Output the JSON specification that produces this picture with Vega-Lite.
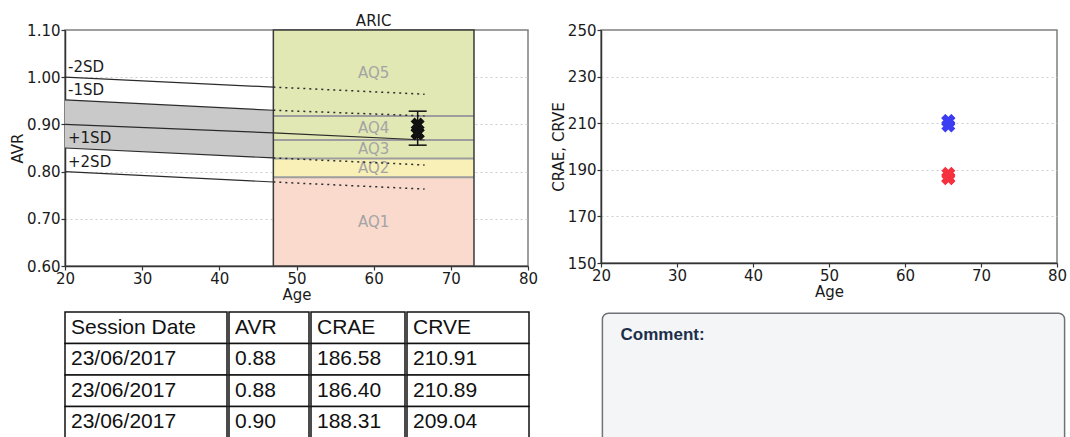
{
  "$schema": "https://vega.github.io/schema/vega-lite/v6.json",
  "background": "white",
  "padding": {"left": 9, "top": 13, "right": 0, "bottom": 0},
  "columns": 2,
  "spacing": {"row": 8, "column": 11},
  "align": "each",
  "resolve": {"scale": {"color": "independent"}},
  "datasets": {
    "sessions": [
      {"date": "23/06/2017", "age": 65.7, "avr": 0.881, "crae": 186.58, "crve": 210.91},
      {"date": "23/06/2017", "age": 65.7, "avr": 0.881, "crae": 186.40, "crve": 210.89},
      {"date": "23/06/2017", "age": 65.7, "avr": 0.900, "crae": 188.31, "crve": 209.04}
    ],
    "aq": [
      {"band": "AQ1", "a0": 47, "a1": 73, "lo": 0.60, "hi": 0.788},
      {"band": "AQ2", "a0": 47, "a1": 73, "lo": 0.788, "hi": 0.828},
      {"band": "AQ3", "a0": 47, "a1": 73, "lo": 0.828, "hi": 0.867},
      {"band": "AQ4", "a0": 47, "a1": 73, "lo": 0.867, "hi": 0.918},
      {"band": "AQ5", "a0": 47, "a1": 73, "lo": 0.918, "hi": 1.10}
    ],
    "sd": [
      {"sd": "-2SD", "seg": "ref", "age": 20, "avr": 1.000},
      {"sd": "-2SD", "seg": "ref", "age": 47, "avr": 0.979},
      {"sd": "-2SD", "seg": "aric", "age": 47, "avr": 0.979},
      {"sd": "-2SD", "seg": "aric", "age": 66.6, "avr": 0.964},
      {"sd": "-1SD", "seg": "ref", "age": 20, "avr": 0.952},
      {"sd": "-1SD", "seg": "ref", "age": 47, "avr": 0.930},
      {"sd": "-1SD", "seg": "aric", "age": 47, "avr": 0.930},
      {"sd": "-1SD", "seg": "aric", "age": 66.6, "avr": 0.918},
      {"sd": "Mean", "seg": "ref", "age": 20, "avr": 0.900},
      {"sd": "Mean", "seg": "ref", "age": 47, "avr": 0.882},
      {"sd": "Mean", "seg": "aric", "age": 47, "avr": 0.882},
      {"sd": "Mean", "seg": "aric", "age": 66.6, "avr": 0.867},
      {"sd": "+1SD", "seg": "ref", "age": 20, "avr": 0.850},
      {"sd": "+1SD", "seg": "ref", "age": 47, "avr": 0.829},
      {"sd": "+1SD", "seg": "aric", "age": 47, "avr": 0.829},
      {"sd": "+1SD", "seg": "aric", "age": 66.6, "avr": 0.814},
      {"sd": "+2SD", "seg": "ref", "age": 20, "avr": 0.800},
      {"sd": "+2SD", "seg": "ref", "age": 47, "avr": 0.778},
      {"sd": "+2SD", "seg": "aric", "age": 47, "avr": 0.778},
      {"sd": "+2SD", "seg": "aric", "age": 66.6, "avr": 0.763}
    ],
    "err": [{"age": 65.7, "lo": 0.856, "hi": 0.928}],
    "table": [
      {"r": 0, "c": "Session Date", "v": "Session Date"},
      {"r": 0, "c": "AVR", "v": "AVR"},
      {"r": 0, "c": "CRAE", "v": "CRAE"},
      {"r": 0, "c": "CRVE", "v": "CRVE"},
      {"r": 1, "c": "Session Date", "v": "23/06/2017"},
      {"r": 1, "c": "AVR", "v": "0.88"},
      {"r": 1, "c": "CRAE", "v": "186.58"},
      {"r": 1, "c": "CRVE", "v": "210.91"},
      {"r": 2, "c": "Session Date", "v": "23/06/2017"},
      {"r": 2, "c": "AVR", "v": "0.88"},
      {"r": 2, "c": "CRAE", "v": "186.40"},
      {"r": 2, "c": "CRVE", "v": "210.89"},
      {"r": 3, "c": "Session Date", "v": "23/06/2017"},
      {"r": 3, "c": "AVR", "v": "0.90"},
      {"r": 3, "c": "CRAE", "v": "188.31"},
      {"r": 3, "c": "CRVE", "v": "209.04"}
    ]
  },
  "concat": [
    {
      "width": 463,
      "height": 236,
      "layer": [
        {
          "data": {"name": "sd"},
          "transform": [
            {"filter": "datum.seg === 'ref' && (datum.sd === '-1SD' || datum.sd === '+1SD')"},
            {"pivot": "sd", "value": "avr", "groupby": ["age"]}
          ],
          "mark": {"type": "area", "color": "#c9c9c9", "opacity": 1},
          "encoding": {
            "x": {"field": "age", "type": "quantitative", "scale": {"domain": [20, 80], "nice": false, "zero": false},
                  "axis": {"title": "Age", "values": [20, 30, 40, 50, 60, 70, 80], "grid": false}},
            "y": {"field": "-1SD", "type": "quantitative", "scale": {"domain": [0.6, 1.1], "nice": false, "zero": false},
                  "axis": {"title": "AVR", "values": [0.6, 0.7, 0.8, 0.9, 1.0, 1.1], "format": ".2f", "grid": true,
                           "gridOpacity": {"condition": {"test": "datum.value < 0.61 || datum.value > 1.09", "value": 0}, "value": 1}}},
            "y2": {"field": "+1SD"}
          }
        },
        {
          "data": {"name": "aq"},
          "mark": {"type": "rect"},
          "encoding": {
            "x": {"field": "a0", "type": "quantitative"},
            "x2": {"field": "a1"},
            "y": {"field": "lo", "type": "quantitative"},
            "y2": {"field": "hi"},
            "color": {"field": "band", "type": "nominal", "legend": null,
                      "scale": {"domain": ["AQ1", "AQ2", "AQ3", "AQ4", "AQ5"], "range": ["#f9dacd", "#f8f0b6", "#e1e8b3", "#e1e8b3", "#e1e8b3"]}}
          }
        },
        {
          "data": {"name": "aq"},
          "transform": [{"filter": "datum.band !== 'AQ5'"}],
          "mark": {"type": "rule", "color": "#9d9d9d", "strokeWidth": 2},
          "encoding": {
            "x": {"field": "a0", "type": "quantitative"},
            "x2": {"field": "a1"},
            "y": {"field": "hi", "type": "quantitative"}
          }
        },
        {
          "data": {"name": "aq"},
          "transform": [
            {"calculate": "(datum.lo + datum.hi) / 2", "as": "mid"},
            {"calculate": "(datum.a0 + datum.a1) / 2", "as": "amid"}
          ],
          "mark": {"type": "text", "fontSize": 15, "color": "#a4a4a4", "baseline": "middle", "align": "center"},
          "encoding": {
            "x": {"field": "amid", "type": "quantitative"},
            "y": {"field": "mid", "type": "quantitative"},
            "text": {"field": "band"}
          }
        },
        {
          "data": {"name": "aq"},
          "transform": [
            {"aggregate": [
              {"op": "min", "field": "lo", "as": "lo"},
              {"op": "max", "field": "hi", "as": "hi"},
              {"op": "min", "field": "a0", "as": "a0"},
              {"op": "max", "field": "a1", "as": "a1"}
            ]}
          ],
          "mark": {"type": "rect", "fill": "transparent", "stroke": "#3a3a3a", "strokeWidth": 1.5},
          "encoding": {
            "x": {"field": "a0", "type": "quantitative"},
            "x2": {"field": "a1"},
            "y": {"field": "lo", "type": "quantitative"},
            "y2": {"field": "hi"}
          }
        },
        {
          "data": {"name": "sd"},
          "transform": [{"filter": "datum.seg === 'ref' || datum.sd === 'Mean'"}],
          "mark": {"type": "line", "color": "#2b2b2b", "strokeWidth": 1.2},
          "encoding": {
            "x": {"field": "age", "type": "quantitative"},
            "y": {"field": "avr", "type": "quantitative"},
            "detail": [{"field": "sd"}, {"field": "seg"}]
          }
        },
        {
          "data": {"name": "sd"},
          "transform": [{"filter": "datum.seg === 'aric' && datum.sd !== 'Mean'"}],
          "mark": {"type": "line", "color": "#2b2b2b", "strokeWidth": 1.5, "strokeDash": [2, 4]},
          "encoding": {
            "x": {"field": "age", "type": "quantitative"},
            "y": {"field": "avr", "type": "quantitative"},
            "detail": {"field": "sd"}
          }
        },
        {
          "data": {"name": "sd"},
          "transform": [{"filter": "datum.seg === 'ref' && datum.age === 20 && datum.sd !== 'Mean'"}],
          "mark": {"type": "text", "align": "left", "baseline": "alphabetic", "dx": 3, "dy": -5, "fontSize": 15, "color": "#1a1a1a"},
          "encoding": {
            "x": {"field": "age", "type": "quantitative"},
            "y": {"field": "avr", "type": "quantitative"},
            "text": {"field": "sd"}
          }
        },
        {
          "data": {"values": [{"label": "ARIC"}]},
          "mark": {"type": "text", "align": "center", "baseline": "alphabetic", "dy": -4, "fontSize": 15, "color": "#1a1a1a"},
          "encoding": {
            "x": {"datum": 60, "type": "quantitative"},
            "y": {"datum": 1.1, "type": "quantitative"},
            "text": {"field": "label"}
          }
        },
        {
          "data": {"name": "err"},
          "mark": {"type": "rule", "color": "#111111", "strokeWidth": 1.5},
          "encoding": {
            "x": {"field": "age", "type": "quantitative"},
            "y": {"field": "lo", "type": "quantitative"},
            "y2": {"field": "hi"}
          }
        },
        {
          "data": {"name": "err"},
          "mark": {"type": "tick", "orient": "horizontal", "size": 18, "thickness": 1.5, "color": "#111111", "opacity": 1},
          "encoding": {
            "x": {"field": "age", "type": "quantitative"},
            "y": {"field": "lo", "type": "quantitative"}
          }
        },
        {
          "data": {"name": "err"},
          "mark": {"type": "tick", "orient": "horizontal", "size": 18, "thickness": 1.5, "color": "#111111", "opacity": 1},
          "encoding": {
            "x": {"field": "age", "type": "quantitative"},
            "y": {"field": "hi", "type": "quantitative"}
          }
        },
        {
          "data": {"name": "sessions"},
          "mark": {"type": "point", "shape": "cross", "angle": 45, "size": 200, "filled": true, "color": "#111111", "opacity": 1},
          "encoding": {
            "x": {"field": "age", "type": "quantitative"},
            "y": {"field": "avr", "type": "quantitative"}
          }
        }
      ]
    },
    {
      "width": 456,
      "height": 233,
      "data": {"name": "sessions"},
      "transform": [{"fold": ["crae", "crve"], "as": ["measure", "value"]}],
      "mark": {"type": "point", "shape": "cross", "angle": 45, "size": 200, "filled": true, "opacity": 1},
      "encoding": {
        "x": {"field": "age", "type": "quantitative", "scale": {"domain": [20, 80], "nice": false, "zero": false},
              "axis": {"title": "Age", "values": [20, 30, 40, 50, 60, 70, 80], "grid": false}},
        "y": {"field": "value", "type": "quantitative", "scale": {"domain": [150, 250], "nice": false, "zero": false},
              "axis": {"title": "CRAE, CRVE", "values": [150, 170, 190, 210, 230, 250], "grid": true,
                       "gridOpacity": {"condition": {"test": "datum.value < 151 || datum.value > 249", "value": 0}, "value": 1}}},
        "color": {"field": "measure", "type": "nominal", "legend": null,
                  "scale": {"domain": ["crae", "crve"], "range": ["#f5303f", "#3c3cf2"]}}
      }
    },
    {
      "spacing": 0,
      "hconcat": [
        {
          "width": 162, "height": 126, "view": {"stroke": null},
          "data": {"name": "table"},
          "transform": [{"filter": "datum.c === 'Session Date'"}],
          "layer": [
            {"mark": {"type": "rect", "fill": "white", "stroke": "#111111", "strokeWidth": 1.5},
             "encoding": {"x": {"field": "c", "type": "nominal", "axis": null, "scale": {"paddingInner": 0, "paddingOuter": 0}},
                          "y": {"field": "r", "type": "ordinal", "axis": null, "scale": {"domain": [0, 1, 2, 3], "paddingInner": 0, "paddingOuter": 0}}}},
            {"mark": {"type": "text", "align": "left", "baseline": "middle", "dx": 6, "font": "Liberation Sans", "fontSize": 21, "color": "#111111"},
             "encoding": {"x": {"field": "c", "type": "nominal", "bandPosition": 0}, "y": {"field": "r", "type": "ordinal"}, "text": {"field": "v"}}}
          ]
        },
        {
          "width": 80, "height": 126, "view": {"stroke": null},
          "data": {"name": "table"},
          "transform": [{"filter": "datum.c === 'AVR'"}],
          "layer": [
            {"mark": {"type": "rect", "fill": "white", "stroke": "#111111", "strokeWidth": 1.5},
             "encoding": {"x": {"field": "c", "type": "nominal", "axis": null, "scale": {"paddingInner": 0, "paddingOuter": 0}},
                          "y": {"field": "r", "type": "ordinal", "axis": null, "scale": {"domain": [0, 1, 2, 3], "paddingInner": 0, "paddingOuter": 0}}}},
            {"mark": {"type": "text", "align": "left", "baseline": "middle", "dx": 6, "font": "Liberation Sans", "fontSize": 21, "color": "#111111"},
             "encoding": {"x": {"field": "c", "type": "nominal", "bandPosition": 0}, "y": {"field": "r", "type": "ordinal"}, "text": {"field": "v"}}}
          ]
        },
        {
          "width": 94, "height": 126, "view": {"stroke": null},
          "data": {"name": "table"},
          "transform": [{"filter": "datum.c === 'CRAE'"}],
          "layer": [
            {"mark": {"type": "rect", "fill": "white", "stroke": "#111111", "strokeWidth": 1.5},
             "encoding": {"x": {"field": "c", "type": "nominal", "axis": null, "scale": {"paddingInner": 0, "paddingOuter": 0}},
                          "y": {"field": "r", "type": "ordinal", "axis": null, "scale": {"domain": [0, 1, 2, 3], "paddingInner": 0, "paddingOuter": 0}}}},
            {"mark": {"type": "text", "align": "left", "baseline": "middle", "dx": 6, "font": "Liberation Sans", "fontSize": 21, "color": "#111111"},
             "encoding": {"x": {"field": "c", "type": "nominal", "bandPosition": 0}, "y": {"field": "r", "type": "ordinal"}, "text": {"field": "v"}}}
          ]
        },
        {
          "width": 122, "height": 126, "view": {"stroke": null},
          "data": {"name": "table"},
          "transform": [{"filter": "datum.c === 'CRVE'"}],
          "layer": [
            {"mark": {"type": "rect", "fill": "white", "stroke": "#111111", "strokeWidth": 1.5},
             "encoding": {"x": {"field": "c", "type": "nominal", "axis": null, "scale": {"paddingInner": 0, "paddingOuter": 0}},
                          "y": {"field": "r", "type": "ordinal", "axis": null, "scale": {"domain": [0, 1, 2, 3], "paddingInner": 0, "paddingOuter": 0}}}},
            {"mark": {"type": "text", "align": "left", "baseline": "middle", "dx": 6, "font": "Liberation Sans", "fontSize": 21, "color": "#111111"},
             "encoding": {"x": {"field": "c", "type": "nominal", "bandPosition": 0}, "y": {"field": "r", "type": "ordinal"}, "text": {"field": "v"}}}
          ]
        }
      ]
    },
    {
      "width": 465,
      "height": 126,
      "view": {"stroke": null},
      "data": {"values": [{"label": "Comment:"}]},
      "layer": [
        {
          "mark": {"type": "rect", "fill": "#f4f5f6", "stroke": "#6f7378", "strokeWidth": 1.5, "cornerRadius": 6, "clip": true},
          "encoding": {
            "x": {"datum": 0.003, "type": "quantitative", "scale": {"domain": [0, 1], "nice": false, "zero": false}, "axis": null},
            "x2": {"datum": 0.997},
            "y": {"datum": 0.99, "type": "quantitative", "scale": {"domain": [0, 1], "nice": false, "zero": false}, "axis": null},
            "y2": {"datum": -1}
          }
        },
        {
          "mark": {"type": "text", "align": "left", "baseline": "middle", "font": "Liberation Sans", "fontSize": 17, "fontWeight": "bold", "color": "#1c2e4a"},
          "encoding": {
            "x": {"datum": 0.042, "type": "quantitative"},
            "y": {"datum": 0.82, "type": "quantitative"},
            "text": {"field": "label"}
          }
        }
      ]
    }
  ],
  "config": {
    "font": "DejaVu Sans",
    "view": {"stroke": "#7f7f7f", "strokeWidth": 1.5},
    "axis": {
      "labelFont": "DejaVu Sans", "labelFontSize": 15, "labelColor": "#1a1a1a",
      "titleFont": "DejaVu Sans", "titleFontSize": 15, "titleFontWeight": "normal", "titleColor": "#1a1a1a",
      "domainColor": "#333333", "domainWidth": 1.5,
      "tickColor": "#333333", "tickSize": 4, "tickWidth": 1.2,
      "labelPadding": 1, "titlePadding": 1, "labelFlush": false, "labelOverlap": false,
      "gridColor": "#cccccc", "gridDash": [2, 3], "gridWidth": 1, "zindex": 1
    }
  }
}
